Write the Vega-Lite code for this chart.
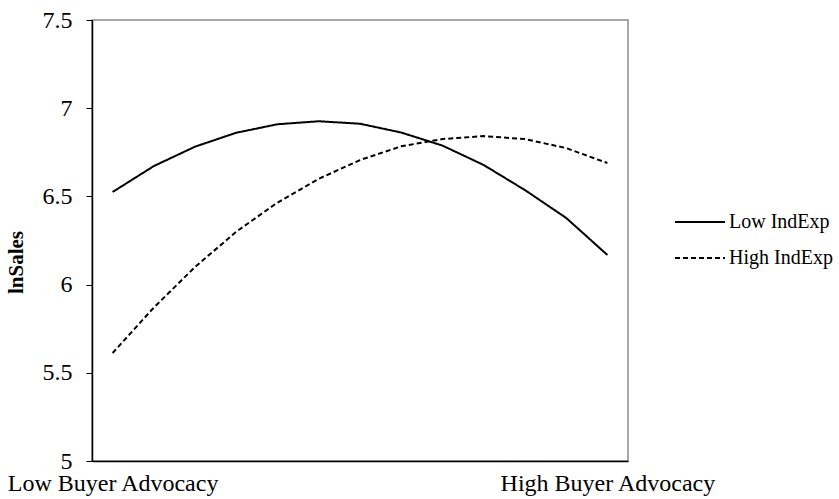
{
  "$schema": "https://vega.github.io/schema/vega-lite/v6.json",
  "width": 536,
  "height": 441,
  "autosize": {"type": "none"},
  "padding": {"left": 92, "top": 20, "right": 211, "bottom": 38},
  "background": "white",
  "config": {
    "view": {"stroke": "#8c8c8c", "strokeWidth": 1.5},
    "font": "Liberation Serif"
  },
  "data": {
    "values": [
      {"point": 0, "series": "Low IndExp", "lnSales": 6.525},
      {"point": 1, "series": "Low IndExp", "lnSales": 6.672},
      {"point": 2, "series": "Low IndExp", "lnSales": 6.782},
      {"point": 3, "series": "Low IndExp", "lnSales": 6.861},
      {"point": 4, "series": "Low IndExp", "lnSales": 6.909},
      {"point": 5, "series": "Low IndExp", "lnSales": 6.926},
      {"point": 6, "series": "Low IndExp", "lnSales": 6.912},
      {"point": 7, "series": "Low IndExp", "lnSales": 6.862},
      {"point": 8, "series": "Low IndExp", "lnSales": 6.788},
      {"point": 9, "series": "Low IndExp", "lnSales": 6.678},
      {"point": 10, "series": "Low IndExp", "lnSales": 6.536},
      {"point": 11, "series": "Low IndExp", "lnSales": 6.378},
      {"point": 12, "series": "Low IndExp", "lnSales": 6.168},
      {"point": 0, "series": "High IndExp", "lnSales": 5.612},
      {"point": 1, "series": "High IndExp", "lnSales": 5.87},
      {"point": 2, "series": "High IndExp", "lnSales": 6.1},
      {"point": 3, "series": "High IndExp", "lnSales": 6.3},
      {"point": 4, "series": "High IndExp", "lnSales": 6.465},
      {"point": 5, "series": "High IndExp", "lnSales": 6.6},
      {"point": 6, "series": "High IndExp", "lnSales": 6.706},
      {"point": 7, "series": "High IndExp", "lnSales": 6.784},
      {"point": 8, "series": "High IndExp", "lnSales": 6.825},
      {"point": 9, "series": "High IndExp", "lnSales": 6.842},
      {"point": 10, "series": "High IndExp", "lnSales": 6.825},
      {"point": 11, "series": "High IndExp", "lnSales": 6.774},
      {"point": 12, "series": "High IndExp", "lnSales": 6.689}
    ]
  },
  "mark": {"type": "line", "strokeWidth": 2, "color": "black"},
  "encoding": {
    "x": {
      "field": "point",
      "type": "ordinal",
      "scale": {"padding": 0.5},
      "axis": {
        "title": null,
        "labelExpr": "datum.value == 0 ? 'Low Buyer Advocacy' : datum.value == 12 ? 'High Buyer Advocacy' : ''",
        "ticks": false,
        "domainColor": "black",
        "domainWidth": 1.5,
        "labelAngle": 0,
        "labelOverlap": false,
        "labelLimit": 0,
        "labelFlush": false,
        "labelFontSize": 24,
        "labelColor": "black",
        "labelPadding": 10
      }
    },
    "y": {
      "field": "lnSales",
      "type": "quantitative",
      "scale": {"domain": [5, 7.5], "nice": false, "zero": false},
      "axis": {
        "title": "lnSales",
        "titleFont": "Liberation Serif",
        "titleFontWeight": "bold",
        "titleFontSize": 21,
        "titleColor": "black",
        "titleY": 242,
        "titlePadding": 16,
        "values": [5, 5.5, 6, 6.5, 7, 7.5],
        "labelExpr": "'' + datum.value",
        "grid": false,
        "domainColor": "black",
        "domainWidth": 1.5,
        "tickColor": "black",
        "tickSize": 6,
        "labelFontSize": 24,
        "labelColor": "black",
        "labelPadding": 14
      }
    },
    "strokeDash": {
      "field": "series",
      "type": "nominal",
      "scale": {"domain": ["Low IndExp", "High IndExp"], "range": [[1, 0], [5, 3]]},
      "legend": {
        "title": null,
        "orient": "none",
        "legendX": 573,
        "legendY": 192,
        "symbolType": "M0,0H12.5",
        "symbolSize": 64,
        "symbolStrokeWidth": 2,
        "symbolStrokeColor": "black",
        "labelOffset": 44,
        "labelFontSize": 20,
        "labelColor": "black",
        "rowPadding": 16
      }
    }
  }
}
